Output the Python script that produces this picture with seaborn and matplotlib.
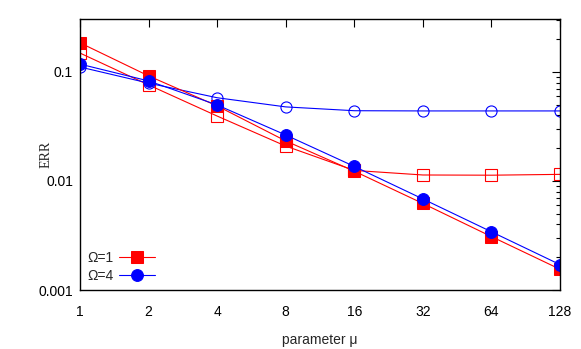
import numpy as np
import pandas as pd
import matplotlib
matplotlib.use('Agg')
import matplotlib.pyplot as plt
import seaborn as sns

mu = [1, 2, 4, 8, 16, 32, 64, 128]
err_o1_filled = [0.185, 0.092, 0.0488, 0.0233, 0.0123, 0.00622, 0.00309, 0.00155]
err_o1_open = [0.149, 0.076, 0.0394, 0.0209, 0.0125, 0.01135, 0.0113, 0.0115]
err_o4_filled = [0.118, 0.0827, 0.0498, 0.0264, 0.0136, 0.00684, 0.00342, 0.00171]
err_o4_open = [0.111, 0.079, 0.058, 0.0478, 0.0441, 0.0439, 0.0439, 0.0439]
labels = ['Ω=1', 'Ω=4']

sns.set_style('white')
plt.rcParams['font.family'] = ['Liberation Sans', 'DejaVu Sans']

fig = plt.figure(figsize=(5.81, 3.49), dpi=100)
ax = fig.add_axes([0.1377, 0.169, 0.8262, 0.7766])

lw = 0.8
sns.lineplot(x=mu, y=err_o1_open, ax=ax, color='red', marker='s', markersize=8,
             mfc='none', mec='red', mew=0.8, lw=lw, label='_nolegend_')
sns.lineplot(x=mu, y=err_o4_open, ax=ax, color='blue', marker='o', markersize=8,
             mfc='none', mec='blue', mew=0.8, lw=lw, label='_nolegend_')
sns.lineplot(x=mu, y=err_o1_filled, ax=ax, color='red', marker='s', markersize=8.5,
             mec='red', lw=lw, label=labels[0])
sns.lineplot(x=mu, y=err_o4_filled, ax=ax, color='blue', marker='o', markersize=8.5,
             mec='blue', lw=lw, label=labels[1])

ax.set_xscale('log', base=2)
ax.set_yscale('log')
ax.set_xlim(1, 128)
ax.set_ylim(0.001, 0.306)
ax.set_xticks(mu)
ax.set_xticklabels([str(m) for m in mu])
ax.xaxis.set_minor_locator(matplotlib.ticker.NullLocator())
ax.set_yticks([0.001, 0.01, 0.1])
ax.set_yticklabels(['0.001', '0.01', '0.1'])
ax.yaxis.set_minor_locator(matplotlib.ticker.LogLocator(base=10, subs=np.arange(2, 10)))
ax.yaxis.set_minor_formatter(matplotlib.ticker.NullFormatter())

ax.tick_params(axis='both', which='both', direction='in', top=True, right=True,
               labelsize=10, colors='black')
ax.tick_params(axis='x', which='major', length=6, width=0.8, pad=11)
ax.tick_params(axis='y', which='major', length=6, width=0.8, pad=5)
ax.tick_params(axis='y', which='minor', length=3, width=0.8)
for s in ax.spines.values():
    s.set_color('black')
    s.set_linewidth(1.0)

ax.set_xlabel('parameter μ', fontsize=10, labelpad=10)
ax.set_ylabel('ERR', fontsize=10, family=['Liberation Serif'])
ax.yaxis.set_label_coords(-0.058, 0.5)

ax.legend(loc='lower left', frameon=False, markerfirst=False, fontsize=10,
          handlelength=2.6, handletextpad=0.4, labelspacing=0.3,
          borderaxespad=0.1, bbox_to_anchor=(0.0, 0.0))

fig.savefig('out.png', dpi=100)
